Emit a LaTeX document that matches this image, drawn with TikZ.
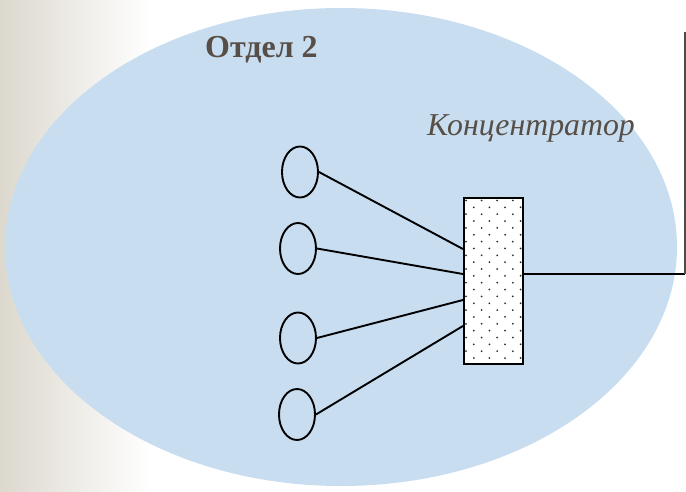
\documentclass[tikz,border=0pt]{standalone}
\usepackage{fontspec}
\setmainfont{Liberation Serif}
\usetikzlibrary{shapes.geometric,calc}
\definecolor{bgside}{HTML}{DCD8CE}
\definecolor{zone}{HTML}{C8DDF0}
\definecolor{txt}{HTML}{574F47}
\definecolor{dotc}{HTML}{303030}
\tikzset{
  pc/.style={draw=black, line width=1.9pt, ellipse, minimum width=36pt, minimum height=51pt, inner sep=0pt},
  hubbox/.style={draw=black, line width=2.1pt, rectangle, minimum width=59pt, minimum height=166pt, inner sep=0pt},
  wire/.style={draw=black, line width=1.9pt},
  uplink/.style={draw=black!70, line width=1.5pt},
  lbl/.style={inner sep=0pt, text=txt, font=\fontsize{32}{38}\selectfont}
}
\begin{document}
\begin{tikzpicture}[x=1pt,y=-1pt]
\useasboundingbox (0,0) rectangle (686,492);
\fill[white] (0,0) rectangle (686,492);
\shade[left color=bgside, right color=white] (0,0) rectangle (150,492);
\fill[zone] (341,247) ellipse [x radius=336pt, y radius=239pt];
\node[lbl, anchor=base west, font=\fontsize{32}{38}\selectfont\bfseries] (t1) at (205,58) {Отдел 2};
\node[lbl, anchor=base west, font=\fontsize{31.8}{38}\selectfont\itshape] (t2) at (427,136) {Концентратор};
\node[hubbox, fill=white] (hub) at (493.5,281) {};
\begin{scope}
\clip (465,199) rectangle (522,363);
\foreach \j in {0,...,24}{
  \pgfmathsetmacro{\yy}{200.5+6.85*\j}
  \pgfmathsetmacro{\xo}{mod(\j,2)*7.8}
  \foreach \i in {0,...,4}{
    \fill[dotc] ({466+\xo+15.6*\i},\yy) circle [radius=1pt];
  }
}
\end{scope}
\node[hubbox] (hubb) at (493.5,281) {};
\node[pc] (c1) at (300,172) {};
\node[pc] (c2) at (298,248.5) {};
\node[pc] (c3) at (298,338) {};
\node[pc] (c4) at (297,414.5) {};
\draw[wire] (c1.east) -- ([yshift=32pt]hub.west);
\draw[wire] (c2.east) -- ([yshift=7pt]hub.west);
\draw[wire] (c3.east) -- ([yshift=-19pt]hub.west);
\draw[wire] (c4.east) -- ([yshift=-45pt]hub.west);
\coordinate (corner) at (685,274);
\coordinate (top) at (685,32);
\draw[wire] ([yshift=7pt]hub.east) -- (corner);
\draw[uplink] (corner) -- (top);
\end{tikzpicture}
\end{document}
